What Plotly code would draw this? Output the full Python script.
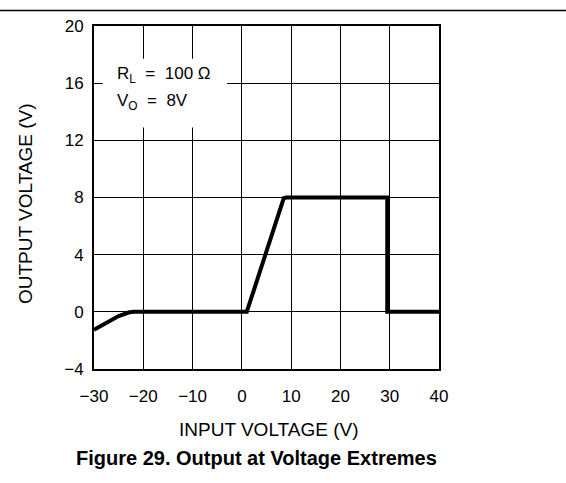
import plotly.graph_objects as go

# Transfer curve: output voltage vs input voltage
input_v = [-30, -27.5, -25, -23, -22, 1, 8.5, 9, 29.5, 29.5, 40]
output_v = [-1.25, -0.75, -0.3, -0.05, 0, 0, 7.95, 8, 8, 0, 0]

x_ticks = [-30, -20, -10, 0, 10, 20, 30, 40]
y_ticks = [-4, 0, 4, 8, 12, 16, 20]


def fmt(v):
    return ("−" + str(-v)) if v < 0 else str(v)


tick_font = dict(family="Liberation Sans, Arial", size=17, color="black")
title_font = dict(family="Liberation Sans, Arial", size=19, color="black")

fig = go.Figure()
fig.add_trace(go.Scatter(
    x=input_v, y=output_v, mode="lines",
    line=dict(color="black", width=4),
    hoverinfo="skip", showlegend=False,
))

axis_common = dict(
    showgrid=True, gridcolor="black", gridwidth=1.3,
    showline=True, linecolor="black", linewidth=2, mirror=True,
    zeroline=False, ticks="", tickfont=tick_font,
)

fig.update_xaxes(
    range=[-30, 40], tickvals=x_ticks, ticktext=[fmt(v) for v in x_ticks],
    ticklabelstandoff=11, **axis_common,
)
fig.update_yaxes(
    range=[-4, 20], tickvals=y_ticks, ticktext=[fmt(v) for v in y_ticks],
    ticklabelstandoff=5, **axis_common,
)

# axis titles
fig.add_annotation(xref="paper", yref="paper", x=0.506, y=-0.177,
                   xanchor="center", yanchor="middle", showarrow=False,
                   text="INPUT VOLTAGE (V)", font=title_font)
fig.add_annotation(xref="paper", yref="paper", x=-0.2, y=0.481,
                   xanchor="center", yanchor="middle", showarrow=False,
                   textangle=-90, text="OUTPUT VOLTAGE (V)", font=title_font)

# clear panel behind the load/output labels
fig.add_shape(type="rect", x0=-28.2, x1=-3.0, y0=12.9, y1=17.7,
              fillcolor="white", line=dict(width=0), layer="between")

fig.add_annotation(x=-25.8, y=16.6, xref="x", yref="y", xanchor="left", yanchor="middle",
                   text="R<sub>L</sub>  =  100 Ω", showarrow=False, font=tick_font)
fig.add_annotation(x=-25.8, y=14.7, xref="x", yref="y", xanchor="left", yanchor="middle",
                   text="V<sub>O</sub>  =  8V", showarrow=False, font=tick_font)

# rule across the top of the page
fig.add_shape(type="line", xref="paper", yref="paper",
              x0=-0.28, x1=1.37, y0=1.045, y1=1.045,
              line=dict(color="black", width=1.5))

fig.add_annotation(xref="paper", yref="paper", x=0.47, y=-0.26,
                   xanchor="center", yanchor="middle", showarrow=False,
                   text="<b>Figure 29. Output at Voltage Extremes</b>",
                   font=dict(family="Liberation Sans, Arial", size=20, color="black"))

fig.update_layout(
    width=566, height=483,
    margin=dict(l=94, r=127, t=25.5, b=113.5),
    paper_bgcolor="white", plot_bgcolor="white",
)

fig.write_html("out.html")
